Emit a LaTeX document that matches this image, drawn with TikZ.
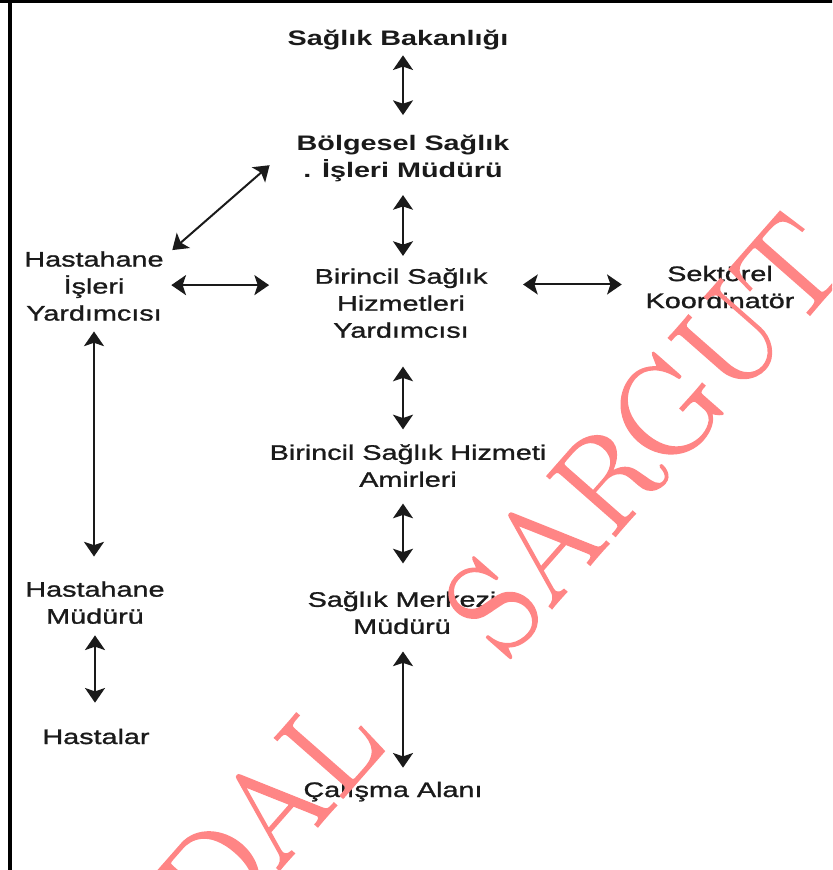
\documentclass[tikz,border=0pt]{standalone}
\usepackage{fontspec}
\setmainfont{Liberation Sans}[FakeStretch=1.37, UprightFeatures={FakeBold=1.2}]
\newfontfamily\wmfont{lmroman17-regular.otf}[FakeBold=1.2]
\usepackage{xcolor}
\usetikzlibrary{arrows.meta}
\definecolor{ink}{HTML}{1a1a1a}
\definecolor{wmred}{HTML}{ff8585}
\tikzset{
  box/.style={font=\fontsize{15.75}{20.25}\selectfont, text=ink, align=center, inner sep=0pt,
    execute at begin node=\strut, execute at end node=\strut},
  head/.style={box, font=\fontsize{15.75}{20.25}\selectfont\bfseries},
  link/.style={line width=1.5pt, color=ink,
    {Stealth[length=11pt,width=15pt,inset=2.5pt]}-{Stealth[length=11pt,width=15pt,inset=2.5pt]}},
  wmark/.style={font=\wmfont\fontsize{100}{100}\selectfont, text=wmred, inner sep=0pt, rotate=48.7}
}
\begin{document}
\begin{tikzpicture}[x=0.75pt,y=0.75pt,yscale=-1,xscale=1]
	\useasboundingbox (0,0) rectangle (832,870);
	\clip (0,0) rectangle (832,870);
	% frame
	\draw [line width=2.8pt] (9.9,875) -- (9.9,1.3) ;
	\draw [line width=2pt] (0,1.3) -- (840,1.3) ;
	% units
	\draw (398,40.6) node [head] (bak) {Sağlık Bakanlığı};
	\draw (403,160.6) node [head] (bol) {Bölgesel Sağlık\\. İşleri Müdürü};
	\draw (401,307) node [box] (yard) {Birincil Sağlık\\Hizmetleri\\Yardımcısı};
	\draw (94,290) node [box] (hyard) {Hastahane\\İşleri\\Yardımcısı};
	\draw (720,291) node [box] (sek) {Sektörel\\Koordinatör};
	\draw (408,469.6) node [box] (amir) {Birincil Sağlık Hizmeti\\Amirleri};
	\draw (402,616.6) node [box] (merk) {Sağlık Merkezi\\Müdürü};
	\draw (95,606.6) node [box] (hmud) {Hastahane\\Müdürü};
	\draw (96,738.6) node [box] (hast) {Hastalar};
	\draw (393,791.6) node [box] (cal) {Çalışma Alanı};
	% links
	\draw [link, shorten <=0.7pt, shorten >=15pt] (bak.south -| bol) -- (bol.north) ;
	\draw [link, shorten <=6.7pt, shorten >=9pt] (bol.south) -- (bol.south |- yard.north) ;
	\draw [link, shorten <=15.4pt, shorten >=11pt] (yard.south -| bol) -- (amir.north -| bol) ;
	\draw [link, shorten <=6.3pt, shorten >=20.7pt] (amir.south -| bol) -- (merk.north -| bol) ;
	\draw [link, shorten <=7pt, shorten >=7.6pt] (merk.south -| bol) -- (cal.north -| bol) ;
	\draw [link, shorten <=1.9pt, shorten >=18.5pt] (hyard.south) -- (hyard.south |- hmud.north) ;
	\draw [link, shorten <=2.5pt, shorten >=16.6pt] (hmud.south) -- (hmud.south |- hast.north) ;
	\draw [link, shorten <=5.6pt, shorten >=34pt] (hyard.4) -- (hyard.4 -| yard.west) ;
	\draw [link, shorten <=26.6pt, shorten >=17.7pt] (yard.east |- sek.175) -- (sek.175) ;
	\draw [link, shorten <=8.4pt, shorten >=26.7pt] (hyard.25) -- (bol.170) ;
	% watermark
	\draw (268,812) node [wmark] (wdal) {DAL};
	\draw (644,434) node [wmark] (wsarg) {SARGUT};
\end{tikzpicture}
\end{document}
